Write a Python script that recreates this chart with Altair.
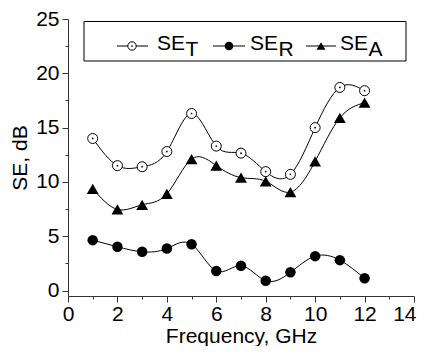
import altair as alt
import pandas as pd

freq = [1, 2, 3, 4, 5, 6, 7, 8, 9, 10, 11, 12]
se_t = [14.0, 11.5, 11.4, 12.8, 16.3, 13.3, 12.65, 10.95, 10.7, 15.0, 18.7, 18.4]
se_r = [4.64, 4.03, 3.57, 3.87, 4.27, 1.8, 2.29, 0.91, 1.68, 3.17, 2.8, 1.13]
se_a = [9.36, 7.47, 7.9, 8.9, 12.1, 11.5, 10.4, 10.06, 9.06, 11.9, 15.9, 17.3]
x_ticks = list(range(0, 15))
y_ticks = [0, 2.5, 5, 7.5, 10, 12.5, 15, 17.5, 20, 22.5, 25]

df = pd.DataFrame({
    "f": freq * 3,
    "v": se_t + se_r + se_a,
    "s": ["T"] * 12 + ["R"] * 12 + ["A"] * 12,
})

W, H = 346, 277
FONT = "Liberation Sans"
AX = "#333333"

xax = alt.Axis(
    values=x_ticks,
    labelExpr="datum.value % 2 ? '' : datum.label",
    tickSize={"condition": {"test": "datum.value % 2 !== 0", "value": 3}, "value": 6},
    labelAlign={"condition": {"test": "datum.value == 14", "value": "right"}, "value": "center"},
    labelOffset={"condition": {"test": "datum.value == 14", "value": 2}, "value": 0},
    labelOverlap=False, labelFlush=False, grid=False,
    labelFont=FONT, labelFontSize=21, labelColor="black", labelPadding=1,
    titleFont=FONT, titleFontSize=21, titleFontWeight="normal", titleColor="black",
    titleBaseline="alphabetic", titleY=46,
    domainColor=AX, tickColor=AX, domainWidth=1, tickWidth=1,
)
yax = alt.Axis(
    values=y_ticks,
    labelExpr="datum.value % 5 ? '' : datum.label",
    tickSize={"condition": {"test": "datum.value % 5 !== 0", "value": 3}, "value": 6},
    labelOverlap=False, labelFlush=False, grid=False,
    labelFont=FONT, labelFontSize=21, labelColor="black", labelPadding=3,
    titleFont=FONT, titleFontSize=21, titleFontWeight="normal", titleColor="black",
    titleAngle=-90, titleBaseline="middle", titleAlign="center", titleX=-48, titleY=H / 2,
    domainColor=AX, tickColor=AX, domainWidth=1, tickWidth=1,
)

X = alt.X("f:Q", scale=alt.Scale(domain=[0, 14], nice=False, zero=False), axis=xax, title="Frequency, GHz")
Y = alt.Y("v:Q", scale=alt.Scale(domain=[-0.5, 25], nice=False, zero=False), axis=yax, title="SE, dB")

base = alt.Chart(df)
lines = base.mark_line(interpolate="natural", color="black", strokeWidth=1).encode(x=X, y=Y, detail="s:N")
pt_t = base.transform_filter("datum.s == 'T'").mark_point(
    shape="circle", filled=True, fill="white", stroke="black", strokeWidth=1, size=100, opacity=1
).encode(x=X, y=Y)
pt_t_dot = base.transform_filter("datum.s == 'T'").mark_point(
    shape="circle", filled=True, fill="black", size=3, opacity=1
).encode(x=X, y=Y)
pt_r = base.transform_filter("datum.s == 'R'").mark_point(
    shape="circle", filled=True, fill="black", size=110, opacity=1
).encode(x=X, y=Y)
pt_a = base.transform_filter("datum.s == 'A'").mark_point(
    shape="triangle-up", filled=True, fill="black", size=140, opacity=1
).encode(x=X, y=Y)

one = alt.Chart(pd.DataFrame({"a": [0]}))
LY = 27
box = one.mark_rect(fillOpacity=0, stroke="black", strokeWidth=1).encode(
    x=alt.value(16), x2=alt.value(338), y=alt.value(2.5), y2=alt.value(42))
leg = [box]
for x1, x2 in [(49, 80), (145, 177), (238, 268)]:
    leg.append(one.mark_rule(color="black", strokeWidth=1).encode(
        x=alt.value(x1), x2=alt.value(x2), y=alt.value(LY)))
leg.append(one.mark_point(shape="circle", filled=True, fill="white", stroke="black",
                          strokeWidth=1, size=70, opacity=1).encode(x=alt.value(64), y=alt.value(LY)))
leg.append(one.mark_point(shape="circle", filled=True, fill="black", size=3, opacity=1
                          ).encode(x=alt.value(64), y=alt.value(LY)))
leg.append(one.mark_point(shape="circle", filled=True, fill="black", size=75, opacity=1
                          ).encode(x=alt.value(161), y=alt.value(LY)))
leg.append(one.mark_point(shape="triangle-up", filled=True, fill="black", size=80, opacity=1
                          ).encode(x=alt.value(253), y=alt.value(LY)))
for sx, sub in [(89, "T"), (182, "R"), (272, "A")]:
    leg.append(one.mark_text(text="SE", font=FONT, fontSize=21, align="left",
                             baseline="alphabetic", color="black").encode(
        x=alt.value(sx), y=alt.value(30.5)))
    leg.append(one.mark_text(text=sub, font=FONT, fontSize=21, align="left",
                             baseline="alphabetic", color="black").encode(
        x=alt.value(sx + 28.5), y=alt.value(37.3)))

chart = alt.layer(lines, pt_t, pt_t_dot, pt_r, pt_a, *leg).properties(
    width=W, height=H,
    autosize=alt.AutoSizeParams(type="none"),
    padding={"left": 60, "top": 11, "right": 3, "bottom": 50},
    background="white",
).configure_view(stroke=None)

chart.save("out.html", embed_options={"renderer": "svg", "actions": False})
